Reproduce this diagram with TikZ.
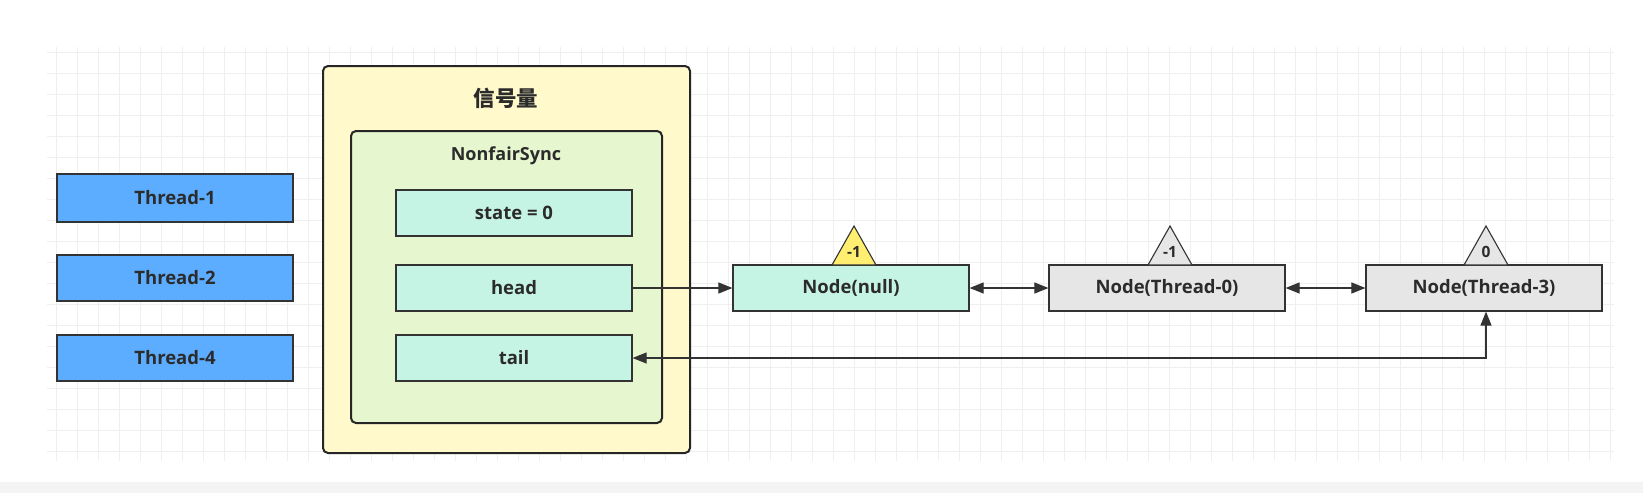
\documentclass[tikz,border=0pt]{standalone}
\usepackage{fontspec}
\setmainfont{Open Sans}
\newfontfamily\cjk{Noto Sans CJK SC}
\usetikzlibrary{arrows.meta}
\definecolor{gridc}{HTML}{EFEFEF}
\definecolor{threadc}{HTML}{5CACFF}
\definecolor{outerc}{HTML}{FFF9CC}
\definecolor{syncc}{HTML}{E6F7CF}
\definecolor{mintc}{HTML}{C6F4E4}
\definecolor{grayc}{HTML}{E6E6E6}
\definecolor{triy}{HTML}{FFEE70}
\definecolor{linec}{HTML}{333333}
\definecolor{txtc}{HTML}{2B2B2B}
\definecolor{bandc}{HTML}{F4F4F4}
\tikzset{
  box/.style={draw=linec, line width=1.2pt, minimum width=236pt, minimum height=46pt, inner sep=0pt, text=txtc, font=\fontsize{18.5}{20}\selectfont\bfseries},
  threadbox/.style={box, fill=threadc},
  fieldbox/.style={box, fill=mintc},
  qnode/.style={box, minimum width=236pt},
  tri/.style={draw=linec, line width=1.1pt},
  trilabel/.style={inner sep=0pt, text=txtc, font=\fontsize{15.5}{17}\selectfont\bfseries},
  conn/.style={draw=linec, line width=1.1pt},
  tip/.style={-{Triangle[length=14pt,width=11pt]}},
  tips/.style={{Triangle[length=14pt,width=11pt]}-{Triangle[length=14pt,width=11pt]}},
}
\begin{document}
\begin{tikzpicture}[x=1pt,y=-1pt]
\useasboundingbox (0,0) rectangle (1643,493);
\fill[white] (0,0) rectangle (1643,493);
\fill[bandc] (0,482) rectangle (1643,493);
% grid
\begin{scope}
\clip (47,47) rectangle (1614,461);
\foreach \i in {0,...,20} { \draw[gridc, line width=0.8pt] (47,52+21*\i) -- (1614,52+21*\i); }
\foreach \i in {0,...,75} { \draw[gridc, line width=0.8pt] (56+21*\i,47) -- (56+21*\i,461); }
\end{scope}
% threads
\node[threadbox, minimum height=48pt] (t1) at (175,198) {Thread-1};
\node[threadbox] (t2) at (175,278) {Thread-2};
\node[threadbox] (t4) at (175,358) {Thread-4};
% semaphore
\draw[draw=black!85, line width=2pt, fill=outerc, rounded corners=5pt] (323,66) rectangle (690,453);
\node[text=txtc, font=\cjk\fontsize{21.5}{23}\selectfont\bfseries] (sem) at (506,98) {信号量};
\draw[draw=black!85, line width=2pt, fill=syncc, rounded corners=5pt] (351,131) rectangle (662,423);
\node[text=txtc, font=\fontsize{18}{20}\selectfont\bfseries] (sync) at (506,156) {NonfairSync};
\node[fieldbox] (state) at (514,213) {state = 0};
\node[fieldbox] (head) at (514,288) {head};
\node[fieldbox] (tail) at (514,358) {tail};
% queue nodes
\node[qnode, fill=mintc] (n0) at (851,288) {Node(null)};
\node[qnode, fill=grayc] (n1) at (1167,288) {Node(Thread-0)};
\node[qnode, fill=grayc] (n2) at (1484,288) {Node(Thread-3)};
% triangles
\draw[tri, fill=triy] (854,226) -- (876,265) -- (832,265) -- cycle;
\node[trilabel] (w0) at (854,252) {-1};
\draw[tri, fill=grayc] (1170,226) -- (1192,265) -- (1148,265) -- cycle;
\node[trilabel] (w1) at (1170,252) {-1};
\draw[tri, fill=grayc] (1486,226) -- (1508,265) -- (1464,265) -- cycle;
\node[trilabel] (w2) at (1486,252) {0};
% connectors
\coordinate (corner) at (1486,358);
\draw[conn, tip] (head.east) -- (n0.west);
\draw[conn, tips] (n0.east) -- (n1.west);
\draw[conn, tips] (n1.east) -- (n2.west);
\draw[conn, tips] (tail.east) -- (corner) -- (corner |- n2.south);
\end{tikzpicture}
\end{document}
